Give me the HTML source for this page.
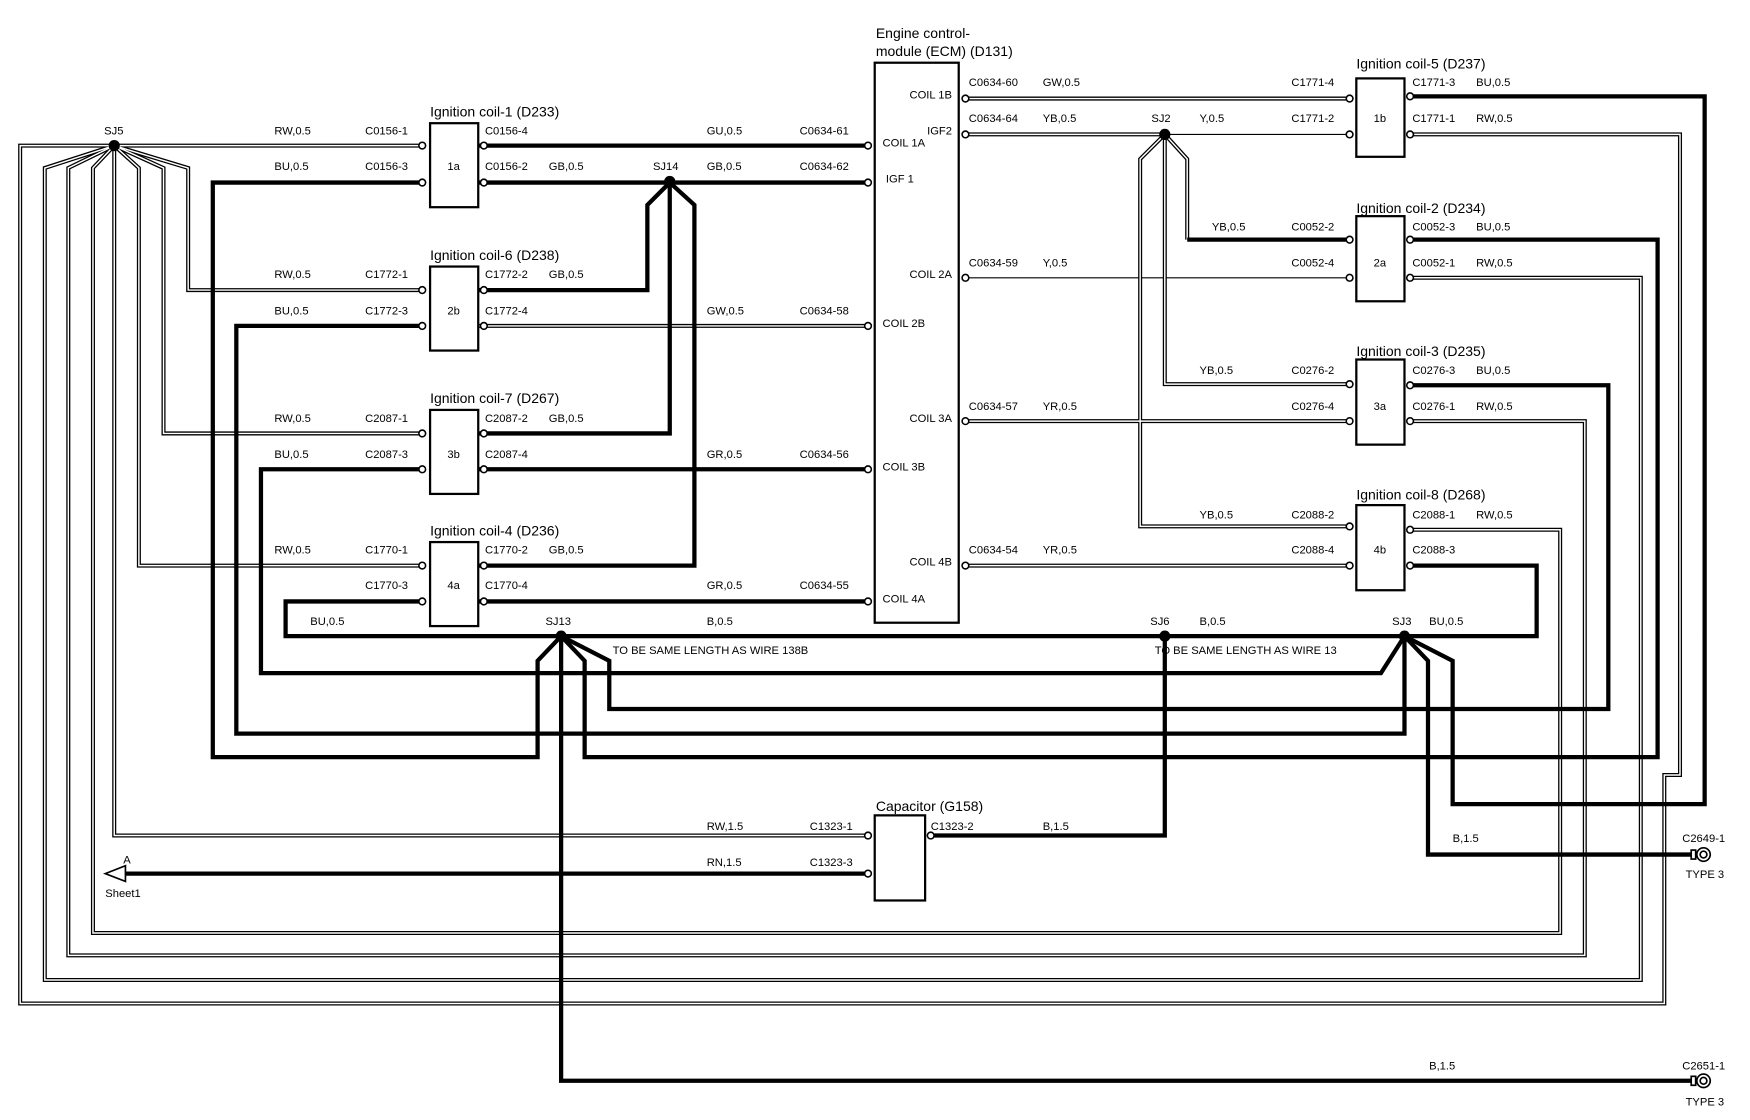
<!DOCTYPE html>
<html><head><meta charset="utf-8"><style>
html,body{margin:0;padding:0;background:#fff;}
svg{display:block;}
text{font-family:"Liberation Sans",Arial,sans-serif;font-size:10px;fill:#000;}
.t{font-size:12.5px;}
.d{fill:none;stroke:#000;stroke-width:3.6;stroke-linejoin:miter;}
.dw{fill:none;stroke:#fff;stroke-width:1.3;stroke-linejoin:miter;}
.k{fill:none;stroke:#000;stroke-width:3.8;stroke-linejoin:miter;}
.s{fill:none;stroke:#000;stroke-width:1;}
.box{fill:#fff;stroke:#000;stroke-width:2;}
.pin{fill:#fff;stroke:#000;stroke-width:1.4;}
</style></head><body>
<svg width="1750" height="1120" viewBox="0 0 1562.5 1000" preserveAspectRatio="none" xmlns="http://www.w3.org/2000/svg">
<defs>
<g id="dbl">
<path d="M102,130 H377"/>
<path d="M102,130 L168,150 V259 H377"/>
<path d="M102,130 L146,150 V387 H377"/>
<path d="M102,130 L124,150 V505 H377"/>
<path d="M102,130 V746 H775"/>
<path d="M102,130 H18 V896 H1486 V692 H1500 V120 H1262"/>
<path d="M102,130 L40,150 V875 H1465 V248 H1262"/>
<path d="M102,130 L61,150 V853 H1415 V376 H1262"/>
<path d="M102,130 L83,150 V833 H1393 V473 H1262"/>
<path d="M427,291 H775"/>
<path d="M862,88 H1204"/>
<path d="M862,120 H1040"/>
<path d="M862,376 H1204"/>
<path d="M862,505 H1204"/>
<path d="M1040,120 L1018,142 V470 H1204"/>
<path d="M1040,120 V343 H1204"/>
<path d="M1040,120 L1060,142 V214"/>
</g>
</defs>
<rect width="1562.5" height="1000" fill="#fff"/>

<path class="s" d="M1040,120 H1204"/>
<path class="s" d="M862,248 H1204"/>

<use href="#dbl" class="d"/>
<use href="#dbl" class="dw"/>

<g class="k">
<path d="M427,130 H775"/>
<path d="M427,163 H775"/>
<path d="M598,163 L578,183 V259 H427"/>
<path d="M598,163 V387 H427"/>
<path d="M598,163 L620,183 V505 H427"/>
<path d="M427,419 H775"/>
<path d="M427,537 H775"/>
<path d="M377,163 H190 V676 H480 V590 L501,568"/>
<path d="M377,291 H211 V655 H1254 V568"/>
<path d="M377,419 H233 V601 H1233 L1254,568"/>
<path d="M377,537 H255 V568 H1372 V505 H1262"/>
<path d="M501,568 V965 H1510"/>
<path d="M501,568 L522,590 V676 H1480 V214 H1262"/>
<path d="M501,568 L544,590 V633 H1436 V344 H1262"/>
<path d="M1254,568 L1275,590 V763 H1510"/>
<path d="M1254,568 L1297,590 V718 H1522 V86 H1262"/>
<path d="M1040,568 V746 H833"/>
<path d="M775,780 H112"/>
<path d="M1060,214 H1204"/>
</g>
<polygon points="94,780 112,773 112,787" fill="#fff" stroke="#000" stroke-width="1.5"/>

<g fill="#000">
<circle cx="102" cy="130" r="5"/><circle cx="598" cy="162" r="5"/><circle cx="1040" cy="120" r="5"/>
<circle cx="501" cy="568" r="5"/><circle cx="1040" cy="568" r="5"/><circle cx="1254" cy="568" r="5"/>
</g>

<rect class="box" x="781" y="56" width="75" height="500"/>
<rect class="box" x="384" y="110" width="43" height="75"/>
<rect class="box" x="384" y="238" width="43" height="75"/>
<rect class="box" x="384" y="366" width="43" height="75"/>
<rect class="box" x="384" y="484" width="43" height="75"/>
<rect class="box" x="1211" y="70" width="43" height="70"/>
<rect class="box" x="1211" y="193" width="43" height="76"/>
<rect class="box" x="1211" y="321" width="43" height="76"/>
<rect class="box" x="1211" y="451" width="43" height="76"/>
<rect class="box" x="781" y="728" width="45" height="76"/>

<g class="pin">
<circle cx="377" cy="130" r="3"/><circle cx="377" cy="163" r="3"/><circle cx="432" cy="130" r="3"/><circle cx="432" cy="163" r="3"/>
<circle cx="377" cy="259" r="3"/><circle cx="377" cy="291" r="3"/><circle cx="432" cy="259" r="3"/><circle cx="432" cy="291" r="3"/>
<circle cx="377" cy="387" r="3"/><circle cx="377" cy="419" r="3"/><circle cx="432" cy="387" r="3"/><circle cx="432" cy="419" r="3"/>
<circle cx="377" cy="505" r="3"/><circle cx="377" cy="537" r="3"/><circle cx="432" cy="505" r="3"/><circle cx="432" cy="537" r="3"/>
<circle cx="775" cy="130" r="3"/><circle cx="775" cy="163" r="3"/><circle cx="775" cy="291" r="3"/><circle cx="775" cy="419" r="3"/><circle cx="775" cy="537" r="3"/>
<circle cx="862" cy="88" r="3"/><circle cx="862" cy="120" r="3"/><circle cx="862" cy="248" r="3"/><circle cx="862" cy="376" r="3"/><circle cx="862" cy="505" r="3"/>
<circle cx="1205" cy="88" r="3"/><circle cx="1205" cy="120" r="3"/><circle cx="1259" cy="86" r="3"/><circle cx="1259" cy="120" r="3"/>
<circle cx="1205" cy="214" r="3"/><circle cx="1205" cy="248" r="3"/><circle cx="1259" cy="214" r="3"/><circle cx="1259" cy="248" r="3"/>
<circle cx="1205" cy="343" r="3"/><circle cx="1205" cy="376" r="3"/><circle cx="1259" cy="344" r="3"/><circle cx="1259" cy="376" r="3"/>
<circle cx="1205" cy="470" r="3"/><circle cx="1205" cy="505" r="3"/><circle cx="1259" cy="473" r="3"/><circle cx="1259" cy="505" r="3"/>
<circle cx="775" cy="746" r="3"/><circle cx="775" cy="780" r="3"/><circle cx="831" cy="746" r="3"/>
</g>

<g stroke="#000" fill="#fff" stroke-width="1.5">
<rect x="1510" y="759" width="4" height="8"/><circle cx="1521" cy="763" r="6"/><circle cx="1521" cy="763" r="3"/>
<rect x="1510" y="961" width="4" height="8"/><circle cx="1521" cy="965" r="6"/><circle cx="1521" cy="965" r="3"/>
</g>

<text class="t" x="384" y="104">Ignition coil-1 (D233)</text>
<text class="t" x="384" y="232">Ignition coil-6 (D238)</text>
<text class="t" x="384" y="360">Ignition coil-7 (D267)</text>
<text class="t" x="384" y="478">Ignition coil-4 (D236)</text>
<text class="t" x="1211" y="61">Ignition coil-5 (D237)</text>
<text class="t" x="1211" y="190">Ignition coil-2 (D234)</text>
<text class="t" x="1211" y="318">Ignition coil-3 (D235)</text>
<text class="t" x="1211" y="446">Ignition coil-8 (D268)</text>
<text class="t" x="782" y="34">Engine control-</text>
<text class="t" x="782" y="50">module (ECM) (D131)</text>
<text class="t" x="782" y="724">Capacitor (G158)</text>

<text x="405" y="152" text-anchor="middle">1a</text>
<text x="405" y="281" text-anchor="middle">2b</text>
<text x="405" y="409" text-anchor="middle">3b</text>
<text x="405" y="526" text-anchor="middle">4a</text>
<text x="1232" y="109" text-anchor="middle">1b</text>
<text x="1232" y="238" text-anchor="middle">2a</text>
<text x="1232" y="366" text-anchor="middle">3a</text>
<text x="1232" y="494" text-anchor="middle">4b</text>

<text x="850" y="88" text-anchor="end">COIL 1B</text>
<text x="850" y="120" text-anchor="end">IGF2</text>
<text x="788" y="131">COIL 1A</text>
<text x="791" y="163">IGF 1</text>
<text x="850" y="248" text-anchor="end">COIL 2A</text>
<text x="788" y="292">COIL 2B</text>
<text x="850" y="377" text-anchor="end">COIL 3A</text>
<text x="788" y="420">COIL 3B</text>
<text x="850" y="505" text-anchor="end">COIL 4B</text>
<text x="788" y="538">COIL 4A</text>

<text x="93" y="120">SJ5</text>
<text x="245" y="120">RW,0.5</text><text x="326" y="120">C0156-1</text>
<text x="245" y="152">BU,0.5</text><text x="326" y="152">C0156-3</text>
<text x="433" y="120">C0156-4</text><text x="433" y="152">C0156-2</text><text x="490" y="152">GB,0.5</text>
<text x="583" y="152">SJ14</text><text x="631" y="152">GB,0.5</text><text x="631" y="120">GU,0.5</text>
<text x="714" y="120">C0634-61</text><text x="714" y="152">C0634-62</text>

<text x="245" y="248">RW,0.5</text><text x="326" y="248">C1772-1</text>
<text x="245" y="281">BU,0.5</text><text x="326" y="281">C1772-3</text>
<text x="433" y="248">C1772-2</text><text x="490" y="248">GB,0.5</text><text x="433" y="281">C1772-4</text>
<text x="631" y="281">GW,0.5</text><text x="714" y="281">C0634-58</text>

<text x="245" y="377">RW,0.5</text><text x="326" y="377">C2087-1</text>
<text x="245" y="409">BU,0.5</text><text x="326" y="409">C2087-3</text>
<text x="433" y="377">C2087-2</text><text x="490" y="377">GB,0.5</text><text x="433" y="409">C2087-4</text>
<text x="631" y="409">GR,0.5</text><text x="714" y="409">C0634-56</text>

<text x="245" y="494">RW,0.5</text><text x="326" y="494">C1770-1</text>
<text x="326" y="526">C1770-3</text>
<text x="433" y="494">C1770-2</text><text x="490" y="494">GB,0.5</text><text x="433" y="526">C1770-4</text>
<text x="631" y="526">GR,0.5</text><text x="714" y="526">C0634-55</text>

<text x="277" y="558">BU,0.5</text><text x="487" y="558">SJ13</text><text x="631" y="558">B,0.5</text>
<text x="547" y="584">TO BE SAME LENGTH AS WIRE 138B</text>
<text x="1027" y="558">SJ6</text><text x="1071" y="558">B,0.5</text>
<text x="1031" y="584">TO BE SAME LENGTH AS WIRE 13</text>
<text x="1243" y="558">SJ3</text><text x="1276" y="558">BU,0.5</text>

<text x="865" y="77">C0634-60</text><text x="931" y="77">GW,0.5</text>
<text x="865" y="109">C0634-64</text><text x="931" y="109">YB,0.5</text>
<text x="1028" y="109">SJ2</text><text x="1071" y="109">Y,0.5</text>
<text x="1153" y="77">C1771-4</text><text x="1153" y="109">C1771-2</text>
<text x="1261" y="77">C1771-3</text><text x="1318" y="77">BU,0.5</text>
<text x="1261" y="109">C1771-1</text><text x="1318" y="109">RW,0.5</text>
<text x="1082" y="206">YB,0.5</text><text x="1153" y="206">C0052-2</text>
<text x="865" y="238">C0634-59</text><text x="931" y="238">Y,0.5</text><text x="1153" y="238">C0052-4</text>
<text x="1261" y="206">C0052-3</text><text x="1318" y="206">BU,0.5</text>
<text x="1261" y="238">C0052-1</text><text x="1318" y="238">RW,0.5</text>
<text x="1071" y="334">YB,0.5</text><text x="1153" y="334">C0276-2</text>
<text x="865" y="366">C0634-57</text><text x="931" y="366">YR,0.5</text><text x="1153" y="366">C0276-4</text>
<text x="1261" y="334">C0276-3</text><text x="1318" y="334">BU,0.5</text>
<text x="1261" y="366">C0276-1</text><text x="1318" y="366">RW,0.5</text>
<text x="1071" y="463">YB,0.5</text><text x="1153" y="463">C2088-2</text>
<text x="865" y="494">C0634-54</text><text x="931" y="494">YR,0.5</text><text x="1153" y="494">C2088-4</text>
<text x="1261" y="463">C2088-1</text><text x="1318" y="463">RW,0.5</text>
<text x="1261" y="494">C2088-3</text>

<text x="631" y="741">RW,1.5</text><text x="723" y="741">C1323-1</text>
<text x="631" y="773">RN,1.5</text><text x="723" y="773">C1323-3</text>
<text x="831" y="741">C1323-2</text><text x="931" y="741">B,1.5</text>
<text x="110" y="771">A</text><text x="94" y="801">Sheet1</text>
<text x="1297" y="752">B,1.5</text><text x="1502" y="752">C2649-1</text><text x="1505" y="784">TYPE 3</text>
<text x="1276" y="955">B,1.5</text><text x="1502" y="955">C2651-1</text><text x="1505" y="987">TYPE 3</text>
</svg>
</body></html>
